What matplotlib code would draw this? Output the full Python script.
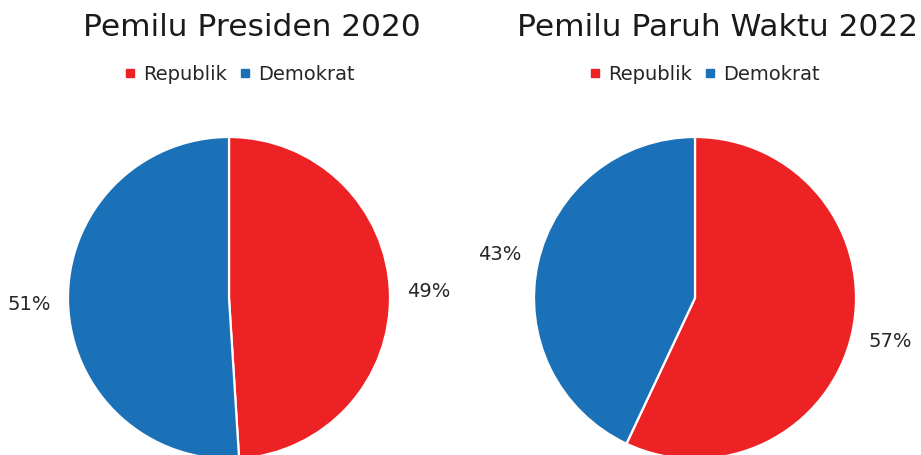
import matplotlib
matplotlib.use("Agg")
import matplotlib.pyplot as plt
from matplotlib.lines import Line2D

# data
parties = ["Republik", "Demokrat"]
colors = ["#ED2224", "#1B71B7"]
titles = ["Pemilu Presiden 2020", "Pemilu Paruh Waktu 2022"]
shares_2020 = [49, 51]
shares_2022 = [57, 43]

W, H = 921, 455
plt.rcParams["font.family"] = ["DejaVu Sans"]

fig = plt.figure(figsize=(W / 100, H / 100), dpi=100)

# pie centres / radius in pixels (from top-left), plus title and legend centres
panels = [
    dict(shares=shares_2020, cx=229, cy=298, title_x=252, legend_x=240),
    dict(shares=shares_2022, cx=695, cy=298, title_x=718, legend_x=705),
]
r = 161
pad = 1.02

for title, p in zip(titles, panels):
    s = r * pad
    ax = fig.add_axes([(p["cx"] - s) / W, (H - p["cy"] - s) / H, 2 * s / W, 2 * s / H])
    ax.pie(
        p["shares"],
        colors=colors,
        startangle=90,
        counterclock=False,
        autopct="%1.0f%%",
        pctdistance=1.24,
        wedgeprops=dict(edgecolor="white", linewidth=1.6),
        textprops=dict(fontsize=14, color="#262626"),
    )
    ax.set_xlim(-pad, pad)
    ax.set_ylim(-pad, pad)
    ax.set_aspect("equal")
    ax.axis("off")

    fig.text(p["title_x"] / W, 1 - 28 / H, title, ha="center", va="center",
             fontsize=22.5, color="#1a1a1a")

    handles = [Line2D([], [], marker="s", linestyle="none", markersize=5.5,
                      markerfacecolor=c, markeredgecolor=c) for c in colors]
    fig.legend(handles, parties, loc="center", ncol=2,
               bbox_to_anchor=(p["legend_x"] / W, 1 - 74 / H),
               frameon=False, fontsize=14, handlelength=0.5, handletextpad=0.4,
               columnspacing=0.7, labelcolor="#262626")

fig.savefig("out.png", dpi=100)
